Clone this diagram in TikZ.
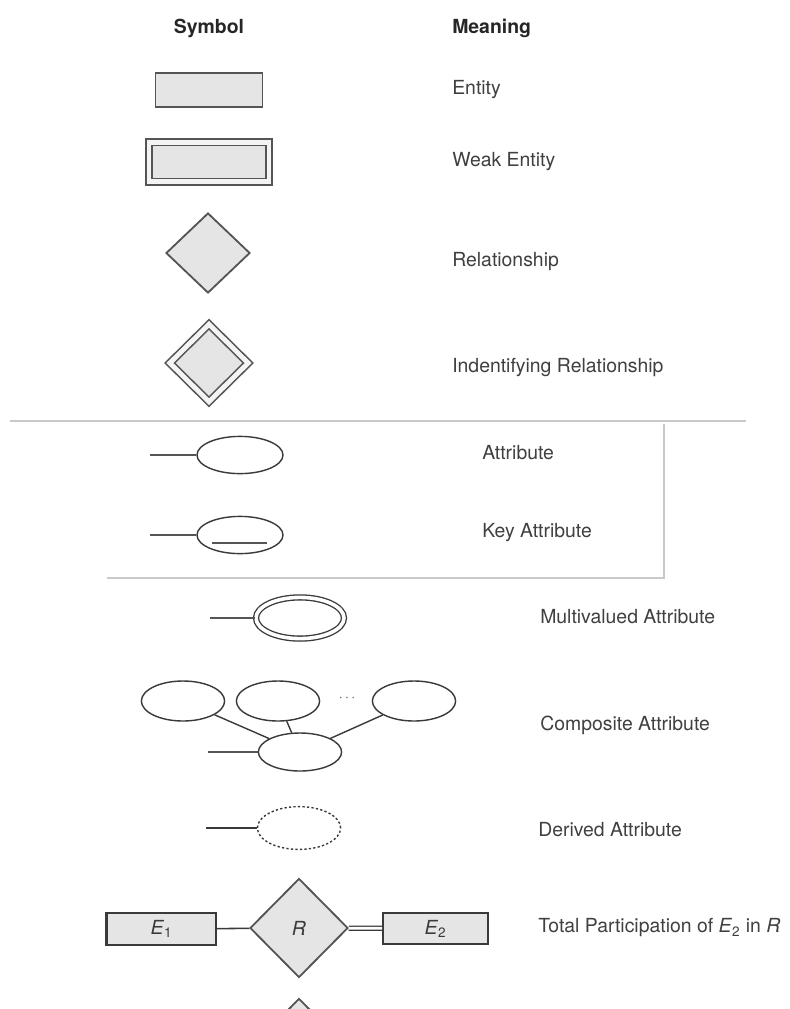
\documentclass[tikz,border=0pt]{standalone}
\usepackage{fontspec}
\setmainfont{TeX Gyre Heros}
\usepackage{xcolor}
\usepackage{tikz}
\usetikzlibrary{shapes.geometric}

\definecolor{symgray}{HTML}{555555}
\definecolor{symdark}{HTML}{3A3A3A}
\definecolor{symfill}{HTML}{E5E5E5}
\definecolor{gapfill}{HTML}{F4F4F4}
\definecolor{rulegray}{HTML}{C9C9C9}
\definecolor{textgray}{HTML}{404040}

\tikzset{
  entity/.style={draw=symgray, fill=symfill, line width=1.3pt, inner sep=0pt,
    minimum width=2.675cm, minimum height=0.85cm},
  weakentity/.style={entity, double=gapfill, double distance=0.12cm, line width=1.15pt,
    minimum width=3cm, minimum height=0.98cm},
  relation/.style={diamond, draw=symgray, fill=symfill, line width=1.3pt, inner sep=0pt,
    minimum width=2.1cm, minimum height=2cm},
  idrelation/.style={relation, double=gapfill, double distance=0.12cm, line width=1.15pt,
    minimum width=1.975cm, minimum height=1.95cm},
  attr/.style={ellipse, draw=symdark, line width=1pt, inner sep=0pt,
    minimum width=2.15cm, minimum height=0.93cm},
  multiattr/.style={attr, double=white, double distance=0.09cm, line width=0.95pt,
    minimum width=2.2cm, minimum height=1.03cm},
  derived/.style={attr, dash pattern=on 1.6pt off 1.6pt, minimum width=2.08cm, minimum height=1.07cm},
  link/.style={draw=symgray, line width=1.3pt},
  rule/.style={draw=rulegray, line width=0.8pt},
  header/.style={inner sep=0pt, text=black!85, font=\fontsize{13.8}{16}\selectfont\bfseries},
  meaning/.style={anchor=west, inner sep=0pt, text=textgray, font=\fontsize{13.8}{16}\selectfont},
  inlabel/.style={text=symdark, font=\fontsize{13.8}{16}\selectfont}
}

\begin{document}
\begin{tikzpicture}[x=0.025cm, y=-0.025cm]
  \clip (0,0) rectangle (790,1009);
  \fill[white] (0,0) rectangle (790,1009);

  %headers
  \node[header] (hSymbol) at (209,28) {Symbol};
  \node[header, anchor=west] (hMeaning) at (452,28) {Meaning};

  %entity and weak entity
  \node[entity] (ent) at (209,90) {};
  \node[meaning] (mEnt) at (452,90) {Entity};
  \node[weakentity] (weak) at (209,162) {};
  \node[meaning] (mWeak) at (452,162) {Weak Entity};

  %relationships
  \node[relation] (rel) at (208,253) {};
  \node[meaning] (mRel) at (452,262) {Relationship};
  \node[idrelation] (idrel) at (209,363) {};
  \node[meaning] (mIdrel) at (452,368) {Indentifying Relationship};

  %box round the attributes
  \draw[rule] (10,421) -- (746,421);
  \draw[rule] (664,424) -- (664,578) -- (107,578);

  %attribute
  \node[attr] (att) at (240,455) {};
  \coordinate (attEnd) at (150,455);
  \draw[link] (attEnd) -- (att);
  \node[meaning] (mAtt) at (482,453) {Attribute};

  %key attribute
  \node[attr] (key) at (240,535) {};
  \coordinate (keyEnd) at (150,535);
  \draw[link] (keyEnd) -- (key);
  \draw[symgray, line width=1.3pt] (212,543) -- (267,543);
  \node[meaning] (mKey) at (482,533) {Key Attribute};

  %multivalued
  \node[multiattr] (multi) at (300,618) {};
  \coordinate (multiEnd) at (210,618);
  \draw[link] (multiEnd) -- (multi);
  \node[meaning] (mMulti) at (540,617) {Multivalued Attribute};

  %composite
  \node[attr, minimum width=2.08cm, minimum height=1cm] (compA) at (183,701) {};
  \node[attr, minimum width=2.08cm, minimum height=1cm] (compB) at (278,701) {};
  \node[attr, minimum width=2.08cm, minimum height=1cm] (compC) at (414,701) {};
  \node[attr, minimum width=2.08cm, minimum height=0.95cm] (comp) at (300,752) {};
  \node[text=symgray, inner sep=0pt] (dots) at (347,698) {$\cdots$};
  \draw[symdark, line width=1pt] (compA) -- (comp);
  \draw[symdark, line width=1pt] (compB) -- (comp);
  \draw[symdark, line width=1pt] (compC) -- (comp);
  \coordinate (compEnd) at (208,752);
  \draw[link] (compEnd) -- (comp);
  \node[meaning] (mComp) at (540,725) {Composite Attribute};

  %derived
  \node[derived] (der) at (299,828) {};
  \coordinate (derEnd) at (206,828);
  \draw[symdark, line width=1.1pt] (derEnd) -- (der);
  \node[meaning] (mDer) at (538,830) {Derived Attribute};

  %total participation
  \node[entity, inlabel, draw=symdark, line width=1.1pt, minimum width=2.725cm, minimum height=0.8cm] (eOne) at (161.5,929) {\textit{E}\textsubscript{1}};
  \draw[symdark, line width=2.2pt] (eOne.north west) -- (eOne.south west);
  \node[relation, inlabel, draw=symgray, minimum width=2.45cm, minimum height=2.475cm] (rTot) at (299,928) {\textit{R}};
  \node[entity, inlabel, draw=symdark, line width=1.1pt, minimum width=2.625cm, minimum height=0.78cm] (eTwo) at (435.5,928.5) {\textit{E}\textsubscript{2}};
  \draw[symdark, line width=1.1pt] (eOne) -- (rTot);
  \draw[symdark, line width=0.9pt, double=white, double distance=0.07cm] (rTot) -- (eTwo);
  \node[meaning] (mTot) at (538,928) {Total Participation of \textit{E}\textsubscript{2} in \textit{R}};

  %next symbol, cut off at the bottom
  \node[relation, minimum width=2.45cm, minimum height=2.475cm] (rNext) at (299,1048) {};
\end{tikzpicture}
\end{document}
